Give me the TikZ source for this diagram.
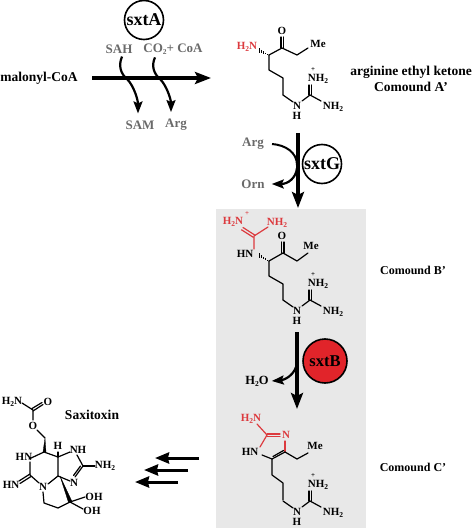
\documentclass[tikz,border=0pt]{standalone}
\usepackage{fontspec}
\setmainfont{Liberation Serif}
\usetikzlibrary{arrows.meta,calc}
\definecolor{redatom}{HTML}{DC3A3E}
\definecolor{greytext}{HTML}{6A6A6A}
\definecolor{panel}{HTML}{E8E8E8}
\definecolor{enzred}{HTML}{E1242A}
\newcommand{\low}[1]{\raisebox{-0.3ex}{\fontsize{7.5}{7.5}\selectfont #1}}
\tikzset{
  atom/.style={inner sep=0pt,font=\bfseries\fontsize{11}{11}\selectfont},
  redlabel/.style={atom,text=redatom},
  plus/.style={inner sep=0pt,font=\bfseries\fontsize{7}{7}\selectfont},
  lab/.style={inner sep=0pt,align=center,font=\bfseries\fontsize{12}{16}\selectfont},
  labbig/.style={inner sep=0pt,align=center,font=\bfseries\fontsize{13.5}{16}\selectfont},
  cof/.style={inner sep=0pt,text=greytext,font=\bfseries\fontsize{13}{13}\selectfont},
  enz/.style={circle,draw=black,line width=1.6pt,minimum size=39pt,inner sep=0pt,font=\bfseries\fontsize{18}{18}\selectfont},
  bond/.style={line width=1.2pt,black,line cap=round,line join=round},
  redbond/.style={bond,draw=redatom},
  main/.style={line width=3.6pt,-{Stealth[length=16pt,width=12pt,inset=3pt]}},
  side/.style={line width=2.2pt,-{Stealth[length=12pt,width=9pt,inset=2pt]}},
  back/.style={line width=3pt,-{Stealth[length=14pt,width=11pt,inset=1pt]}},
}
\newcommand{\guantail}[1]{%
\begin{scope}[shift={(0,#1)}]
  \draw[bond] (293,307) -- (283,300) (302,306) -- (310,300) -- (321,306);
  \draw[bond] (309,300) -- (309,290) (311.5,300) -- (311.5,290);
  \node[atom] at (297,311) {N};
  \node[atom] at (297,321) {H};
  \node[atom] at (318,284) {NH\low{2}};
  \node[plus] at (313,275) {+};
  \node[atom] at (333,312) {NH\low{2}};
\end{scope}}
\newcommand{\hashwedge}[2]{%
\foreach \t in {0.1,0.3,0.5,0.7,0.9}{\draw[line width=1.1pt] ($(#1)!\t!(#2)+(0,-\t*2.4)$) -- ($(#1)!\t!(#2)+(0,\t*2.4)$);}}
\begin{document}
\begin{tikzpicture}[x=1pt,y=-1pt]
\useasboundingbox (0,0) rectangle (474,529);
\fill[panel] (216,209) rectangle (366,528);

% ---- step A
\node[enz] (sxtA) at (144,20) {sxtA};
\node[labbig] (malonyl) at (39,78) {malonyl-CoA};
\node[cof] (sah) at (119,49) {SAH};
\node[cof] (co2) at (173,49) {CO\low{2}+ CoA};
\node[cof] (sam) at (140,125) {SAM};
\node[cof] (argA) at (176,125) {Arg};
\coordinate (mainAs) at (92,78);
\coordinate (mainAe) at (211,78);
\draw[main] (mainAs) -- (mainAe);
\draw[side] ([xshift=3pt,yshift=-3pt]sah.south) .. controls (118,66) and (121,74) .. (127,79) .. controls (134,86) and (138,100) .. ([xshift=-2pt,yshift=7pt]sam.north);
\draw[side] ([xshift=-18pt,yshift=-3pt]co2.south) .. controls (151,66) and (154,74) .. (160,79) .. controls (167,86) and (171,100) .. ([xshift=-5pt,yshift=7pt]argA.north);

% ---- compound A
\node[atom] at (282,31) {O};
\node[redlabel] at (247,47) {H\low{2}N};
\node[atom] at (318,44) {Me};
\draw[bond] (269,55) -- (282,48) -- (297,55) -- (308,48);
\draw[bond] (281,48) -- (281,37) (283.5,48) -- (283.5,37);
\draw[bond] (269,55) -- (269,70) -- (283,78) -- (283,95);
\hashwedge{269,55}{258,50}
\guantail{-205}
\node[labbig] (nameA) at (411,79) {arginine ethyl ketone\\Comound A’};

% ---- step G
\node[enz] (sxtG) at (322,164) {sxtG};
\node[cof] (argG) at (253,144) {Arg};
\node[cof] (orn) at (253,184) {Orn};
\coordinate (mainGs) at (298,133);
\coordinate (mainGe) at (298,208);
\draw[main] (mainGs) -- (mainGe);
\draw[line width=2pt] ([xshift=8pt]argG.east) .. controls (285,145) and (297,152) .. (297,165);
\draw[side] (297,168) .. controls (296,178) and (288,184) .. ([xshift=7pt]orn.east);

% ---- compound B
\node[atom] at (282,236) {O};
\node[atom] at (311,246) {Me};
\node[atom] at (245,254) {HN};
\node[redlabel] at (233,222) {H\low{2}N};
\node[plus,text=redatom] at (247,214) {+};
\node[redlabel] at (277,223) {NH\low{2}};
\draw[bond] (269,261) -- (283,253) -- (297,261) -- (308,253);
\draw[bond] (281.5,253) -- (281.5,242) (284,253) -- (284,242);
\draw[bond] (269,261) -- (269,276) -- (283,284) -- (283,300);
\hashwedge{269,261}{258,255}
\draw[redbond] (254,249) -- (254,236) -- (268,227);
\draw[redbond] (254.7,235) -- (243,227.5) (253.3,237.3) -- (241.5,229.8);
\guantail{0}
\node[lab] (nameB) at (413,270) {Comound B’};

% ---- step B
\node[enz,fill=enzred,minimum size=44pt,font=\bfseries\fontsize{16.5}{16.5}\selectfont] (sxtB) at (325,361) {sxtB};
\node[atom,font=\bfseries\fontsize{12.5}{12.5}\selectfont] (water) at (257,381) {H\low{2}O};
\coordinate (mainBs) at (297,332);
\coordinate (mainBe) at (297,409);
\draw[main] (mainBs) -- (mainBe);
\draw[side] (296,367) .. controls (293,376) and (284,380) .. ([xshift=3pt]water.east);

% ---- compound C
\node[redlabel] at (251,419) {H\low{2}N};
\node[redlabel] at (286,435) {N};
\node[atom] at (250,452) {HN};
\node[atom] at (315,446) {Me};
\draw[redbond] (257,424) -- (267,435) -- (260,447);
\draw[redbond] (267,434) -- (280,434) (267,436.5) -- (280,436.5);
\draw[redbond] (285,441) -- (285,452);
\draw[bond] (262,455) -- (272,459) -- (285,452) -- (297,459) -- (308,453);
\draw[bond] (273,456.5) -- (283.5,450.5);
\draw[bond] (272,459) -- (272,475) -- (283,483) -- (283,500);
\guantail{201}
\node[lab] (nameC) at (413,467) {Comound C’};

% ---- back arrows
\coordinate (b1s) at (199,458); \coordinate (b1e) at (155,458);
\coordinate (b2s) at (188,470); \coordinate (b2e) at (144,470);
\coordinate (b3s) at (178,482); \coordinate (b3e) at (135,482);
\draw[back] (b1s) -- (b1e);
\draw[back] (b2s) -- (b2e);
\draw[back] (b3s) -- (b3e);

% ---- saxitoxin
\node[labbig] (sax) at (92,415) {Saxitoxin};
\node[atom] at (12,402) {H\low{2}N};
\node[atom] at (48,402) {O};
\node[atom] at (33,426) {O};
\node[atom] at (24,457) {HN};
\node[atom] at (11,485) {HN};
\node[atom] at (43,487) {N};
\node[atom] at (58,446) {H};
\node[atom] at (78,450) {NH};
\node[atom] at (74,483) {N};
\node[atom] at (105,466) {NH\low{2}};
\node[atom] at (94,497) {OH};
\node[atom] at (92,511) {OH};
\draw[bond] (22,403) -- (33,410) -- (33,420) (37,430) -- (45,438);
\draw[bond] (33,411) -- (43,404.5) (32,408.5) -- (42,402.5);
\draw[fill=black,line width=.3pt] (45,438) -- (43,452) -- (46,452) -- cycle;
\draw[bond] (29,459) -- (44,452) -- (58,457) -- (58,476) -- (48,484);
\draw[bond] (30,462) -- (30,475) -- (39,483);
\draw[bond] (30,474) -- (19,481) (31,476.5) -- (20,483.5);
\draw[bond] (58,457) -- (70,452);
\draw[bond] (58,452) -- (58,457);
\draw[bond] (77,455) -- (83,466) -- (75,477) (80.5,466) -- (73.5,475.5);
\draw[bond] (83,466) -- (95,466);
\draw[bond] (58,476) -- (70,481);
\draw[bond] (43,492) -- (44,503) -- (58,508) -- (70,502) -- (85,497) (70,502) -- (83,509);
\draw[fill=black,line width=.3pt] (60,476) -- (72,501.5) -- (68.5,502.5) -- cycle;
\end{tikzpicture}
\end{document}
